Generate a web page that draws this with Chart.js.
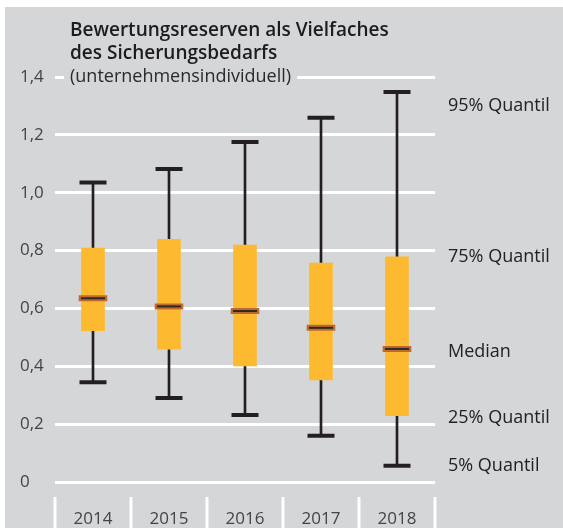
<!DOCTYPE html>
<html>
<head>
<meta charset="utf-8">
<script src="https://cdn.jsdelivr.net/npm/chart.js@4"></script>
<style>
  html, body { margin: 0; padding: 0; background: #fff; }
  #panel { position: absolute; left: 5px; top: 7px; width: 558px; height: 521px; background: #d5d6d8; }
</style>
</head>
<body>
<div id="panel"><canvas id="chart" width="558" height="521"></canvas></div>
<script>
const JAHRE = ['2014', '2015', '2016', '2017', '2018'];
const Q95 = [1.035, 1.082, 1.175, 1.259, 1.348];
const Q75 = [0.809, 0.839, 0.819, 0.757, 0.778];
const MEDIAN = [0.635, 0.607, 0.591, 0.533, 0.460];
const Q25 = [0.523, 0.459, 0.401, 0.353, 0.229];
const Q5 = [0.345, 0.290, 0.232, 0.160, 0.056];

const BG = '#d5d6d8';
const FONT = '"Open Sans", "Noto Sans", sans-serif';

// Titel und Beschriftungen rechts
const beschriftung = {
    id: 'beschriftung',
    afterDraw(chart) {
        const ctx = chart.ctx;
        const y = chart.scales.y;
        const area = chart.chartArea;
        ctx.save();
        ctx.textBaseline = 'middle';
        ctx.textAlign = 'left';

        ctx.fillStyle = '#1c1c1c';
        ctx.font = '600 19px ' + FONT;
        ctx.fillText('Bewertungsreserven als Vielfaches', 65, 24);
        ctx.fillText('des Sicherungsbedarfs', 65, 47);

        ctx.font = '18px ' + FONT;
        const t = '(unternehmensindividuell)';
        const w = ctx.measureText(t).width;
        const ty = y.getPixelForValue(1.4);
        ctx.fillStyle = BG;
        ctx.fillRect(59, ty - 11, w + 12, 22);
        ctx.fillStyle = '#2a2a2a';
        ctx.fillText(t, 65, ty);

        ctx.font = '500 18px ' + FONT;
        ctx.fillStyle = '#222';
        [['95% Quantil', 1.30], ['75% Quantil', 0.778], ['Median', 0.449],
         ['25% Quantil', 0.221], ['5% Quantil', 0.055]].forEach(([txt, v]) => {
            ctx.fillText(txt, area.right + 13, y.getPixelForValue(v));
        });

        // Trennstriche der Jahre
        const n = JAHRE.length;
        const step = (area.right - area.left) / n;
        ctx.strokeStyle = '#fff';
        ctx.lineWidth = 3;
        for (let i = 0; i <= n; i++) {
            const x = area.left + i * step;
            ctx.beginPath();
            ctx.moveTo(x, area.bottom + 15);
            ctx.lineTo(x, chart.height);
            ctx.stroke();
        }
        ctx.restore();
    }
};

const ctx = document.getElementById('chart').getContext('2d');
new Chart(ctx, {
    type: 'bar',
    data: {
        labels: JAHRE,
        datasets: [
            {
                label: 'Whisker',
                data: JAHRE.map((_, i) => [Q5[i], Q95[i]]),
                backgroundColor: '#231f20',
                barThickness: 2,
                grouped: false,
                order: 5
            },
            {
                label: 'Box',
                data: JAHRE.map((_, i) => [Q25[i], Q75[i]]),
                backgroundColor: '#fdb930',
                barThickness: 23,
                grouped: false,
                order: 4
            },
            {
                type: 'line', label: '95%', data: Q95, showLine: false,
                pointStyle: 'line', pointRadius: 13.5, borderWidth: 4,
                borderColor: '#231f20', order: 3
            },
            {
                type: 'line', label: '5%', data: Q5, showLine: false,
                pointStyle: 'line', pointRadius: 13.5, borderWidth: 4,
                borderColor: '#231f20', order: 3
            },
            {
                type: 'line', label: 'Median', data: MEDIAN, showLine: false,
                pointStyle: 'line', pointRadius: 14.3, borderWidth: 6,
                borderColor: '#bf6a2b', order: 2
            },
            {
                type: 'line', label: 'Median innen', data: MEDIAN, showLine: false,
                pointStyle: 'line', pointRadius: 12, borderWidth: 2,
                borderColor: '#2a2a2a', order: 1
            }
        ]
    },
    options: {
        responsive: false,
        animation: false,
        events: [],
        layout: { padding: { left: 15, right: 128, top: 70, bottom: 0 } },
        plugins: { legend: { display: false }, tooltip: { enabled: false } },
        scales: {
            x: {
                grid: { display: false },
                border: { display: false },
                ticks: { color: '#444', font: { family: FONT, size: 17 }, padding: 19 },
                afterFit: s => { s.height = 46; }
            },
            y: {
                min: 0,
                max: 1.4,
                grid: { color: '#fff', lineWidth: 3, drawTicks: false },
                border: { display: false },
                ticks: {
                    stepSize: 0.2,
                    crossAlign: 'far',
                    color: '#444',
                    font: { family: FONT, size: 17 },
                    callback: v => v === 0 ? '0' : v.toFixed(1).replace('.', ',')
                },
                afterFit: s => { s.width = 35; }
            }
        }
    },
    plugins: [beschriftung]
});
</script>
</body>
</html>
